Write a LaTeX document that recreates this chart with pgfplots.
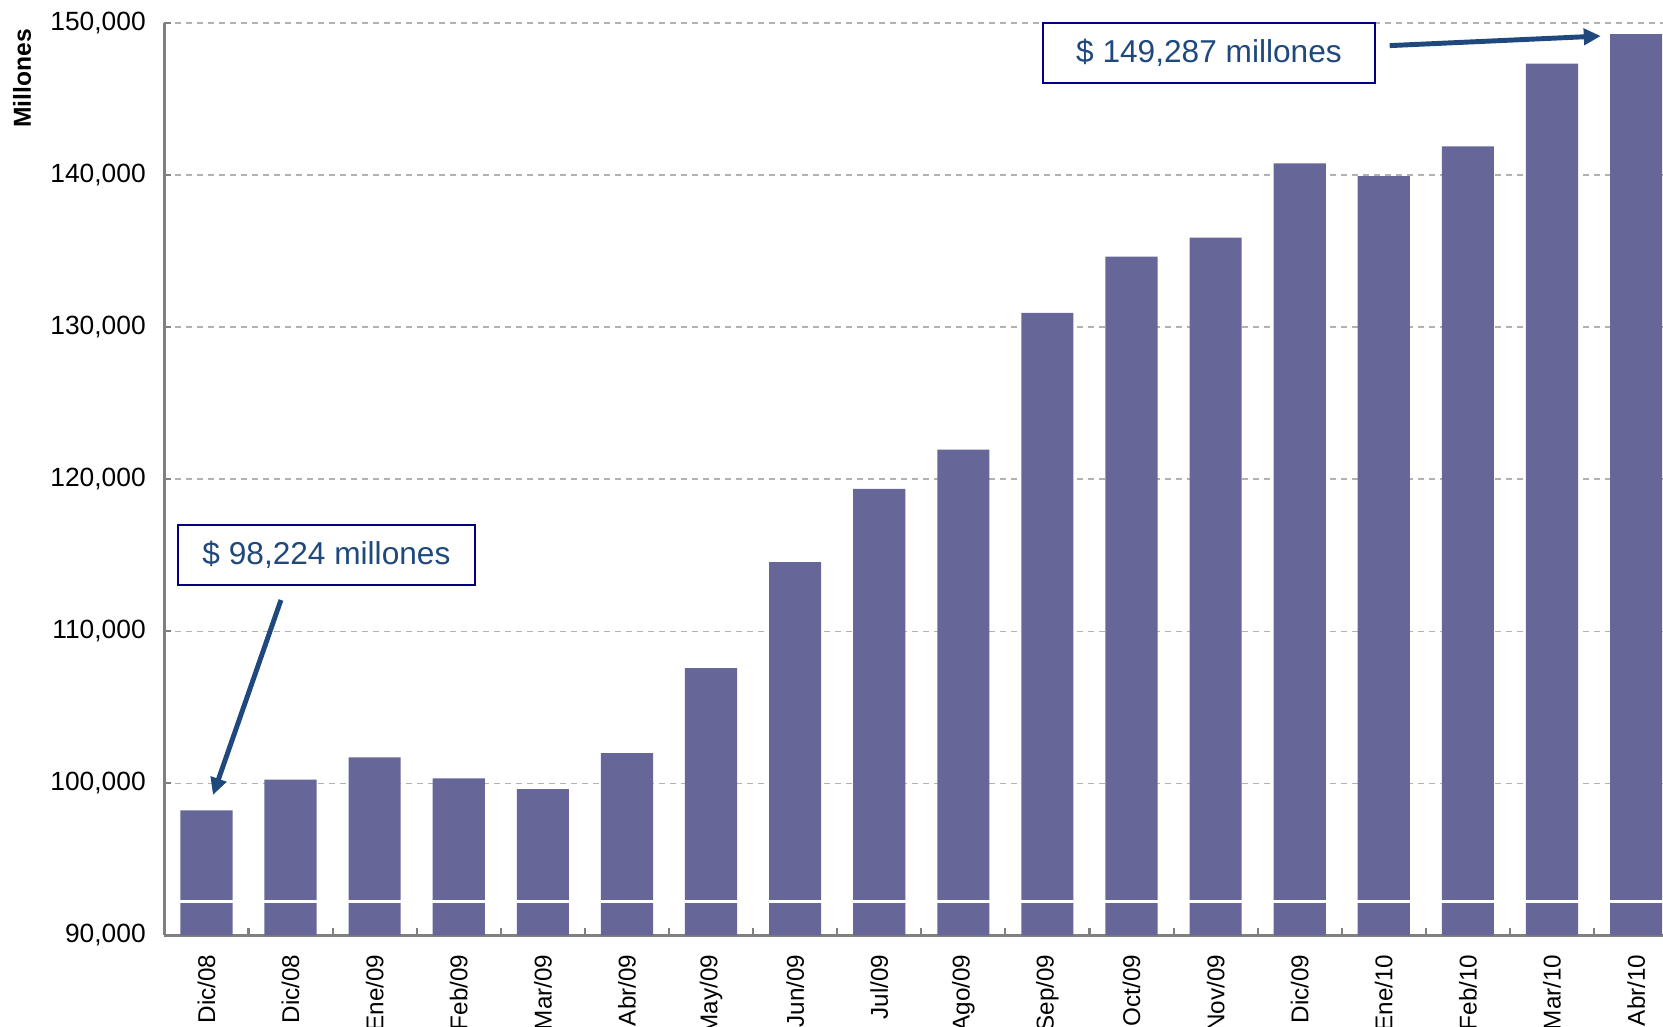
\documentclass[border=0pt]{standalone}
\usepackage{fontspec}
\setmainfont{Liberation Sans}
\usepackage{pgfplots}
\pgfplotsset{compat=1.18}
\usetikzlibrary{calc,arrows.meta}
\definecolor{barc}{RGB}{102,102,153}
\definecolor{axisgray}{RGB}{128,128,128}
\definecolor{gridgray}{RGB}{178,178,178}
\definecolor{annotc}{RGB}{31,73,125}
\definecolor{boxc}{RGB}{0,0,128}
\begin{document}
\begin{tikzpicture}
\begin{axis}[
  width=14.986cm, height=9.122cm, scale only axis,
  xmin=-0.5, xmax=17.32, ymin=90000, ymax=150000,
  clip mode=individual,
  scaled y ticks=false,
  ytick={90000,100000,110000,120000,130000,140000,150000},
  yticklabel style={/pgf/number format/fixed, /pgf/number format/1000 sep={,}},
  xtick={0,...,17},
  xticklabels={Dic/08,Dic/08,Ene/09,Feb/09,Mar/09,Abr/09,May/09,Jun/09,Jul/09,Ago/09,Sep/09,Oct/09,Nov/09,Dic/09,Ene/10,Feb/10,Mar/10,Abr/10},
  minor xtick={0.5,1.5,...,16.5},
  major x tick style={draw=none},
  minor x tick style={draw=axisgray, line width=0.6pt},
  major y tick style={draw=axisgray, line width=0.6pt},
  major tick length=0.07cm, minor tick length=0.07cm,
  tick align=inside,
  axis x line*=bottom, axis y line*=left,
  axis line style={draw=axisgray, line width=0.8pt},
  ymajorgrids,
  grid style={draw=gridgray, line width=0.5pt, dash pattern=on 0.06cm off 0.05cm},
  /pgf/number format/assume math mode=true,
  /pgf/number format/1000 sep={,},
  yticklabel style={font=\fontsize{7.5}{9}\selectfont, text=black, inner sep=0pt, xshift=-0.18cm},
  xticklabel style={font=\fontsize{6.9}{8}\selectfont, text=black, rotate=90, anchor=east, inner sep=0pt, xshift=-0.185cm},
]
\addplot[ybar, fill=barc, draw=none, bar width=0.62] coordinates {
(0,98224) (1,100256) (2,101720) (3,100326) (4,99628) (5,102000)
(6,107580) (7,114560) (8,119370) (9,121950) (10,130950) (11,134650)
(12,135900) (13,140790) (14,139950) (15,141900) (16,147350) (17,149287)
};
\draw[white, line width=0.8pt] (axis cs:-0.45,92230) -- (axis cs:17.32,92230);
\node[rotate=90, font=\bfseries\fontsize{7}{8}\selectfont] at (rel axis cs:-0.095,0.9395) {Millones};
\node[draw=boxc, line width=0.6pt, fill=white, minimum width=2.97cm, minimum height=0.6cm, inner sep=0pt, text=annotc, font=\fontsize{9}{11}\selectfont] at (axis cs:1.427,115026) {\$ 98,224 millones};
\node[draw=boxc, line width=0.6pt, fill=white, minimum width=3.32cm, minimum height=0.6cm, inner sep=0pt, text=annotc, font=\fontsize{9}{11}\selectfont] at (axis cs:11.921,148042) {\$ 149,287 millones};
\draw[annotc, line width=1.4pt, -{Triangle[length=0.17cm, width=0.16cm]}] (axis cs:0.886,112066) -- (axis cs:0.078,99241);
\draw[annotc, line width=1.4pt, -{Triangle[length=0.17cm, width=0.16cm]}] (axis cs:14.07,148530) -- (axis cs:16.58,149161);
\end{axis}
\pgfresetboundingbox
\path ($(current axis.south west)+(-1.644cm,-0.915cm)$) rectangle ($(current axis.north east)+(0,0.233cm)$);
\end{tikzpicture}
\end{document}
